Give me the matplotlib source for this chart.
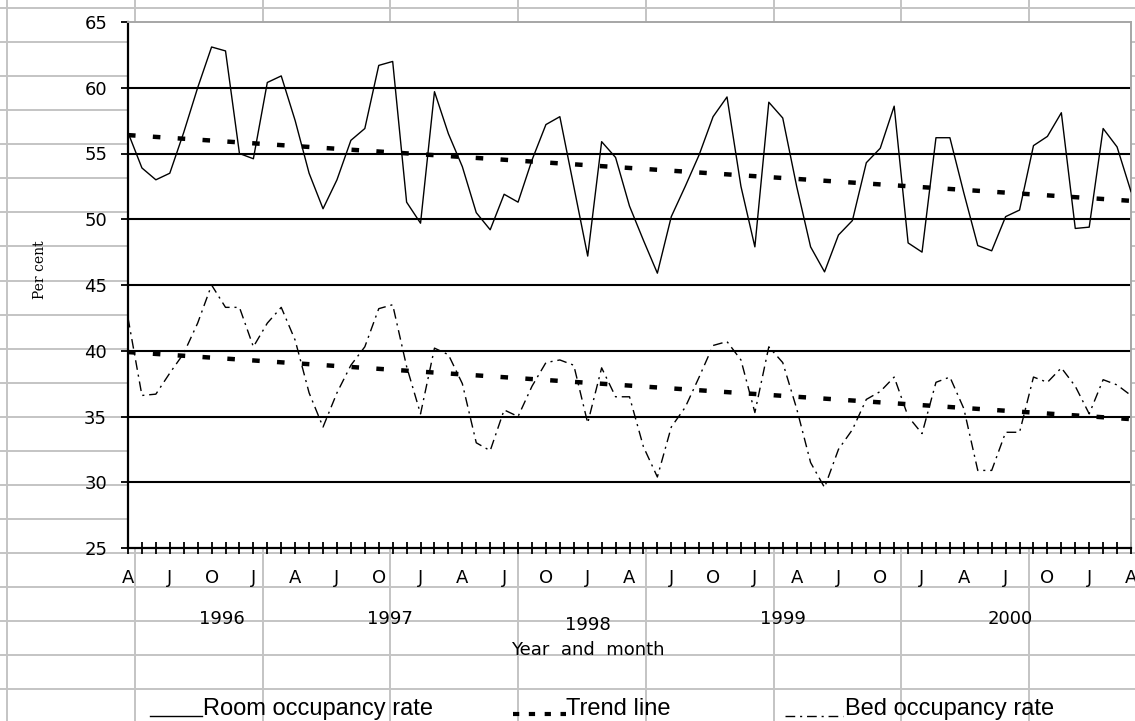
import numpy as np
import matplotlib
matplotlib.use('Agg')
import matplotlib.pyplot as plt
from matplotlib.transforms import blended_transform_factory

# ---------------- data ----------------
quarter_labels = ['A', 'J', 'O', 'J', 'A', 'J', 'O', 'J', 'A', 'J', 'O', 'J',
                  'A', 'J', 'O', 'J', 'A', 'J', 'O', 'J', 'A', 'J', 'O', 'J', 'A']
year_labels = ['1996', '1997', '1998', '1999', '2000']

room_rate = [56.6, 53.9, 53.0, 53.5, 56.6, 60.0, 63.1, 62.8, 55.0, 54.6,
             60.4, 60.9, 57.5, 53.5, 50.8, 53.0, 56.0, 56.9, 61.7, 62.0,
             51.3, 49.7, 59.7, 56.5, 54.0, 50.5, 49.2, 51.9, 51.3, 54.5,
             57.2, 57.8, 52.5, 47.2, 55.9, 54.7, 51.0, 48.4, 45.9, 50.2,
             52.5, 54.9, 57.8, 59.3, 52.5, 47.9, 58.9, 57.7, 52.5, 47.9,
             46.0, 48.8, 49.9, 54.3, 55.4, 58.6, 48.2, 47.5, 56.2, 56.2,
             52.0, 48.0, 47.6, 50.2, 50.7, 55.6, 56.3, 58.1, 49.3, 49.4,
             56.9, 55.5, 52.1]

bed_rate = [42.5, 36.6, 36.7, 38.3, 39.8, 42.1, 45.0, 43.3, 43.3, 40.3,
            42.1, 43.3, 40.8, 36.8, 34.2, 36.8, 38.9, 40.3, 43.2, 43.5,
            38.8, 35.2, 40.2, 39.7, 37.5, 33.0, 32.4, 35.5, 35.0, 37.3,
            39.1, 39.3, 38.9, 34.5, 38.7, 36.5, 36.5, 32.7, 30.4, 34.2,
            35.7, 38.0, 40.4, 40.7, 39.3, 35.3, 40.3, 39.1, 35.6, 31.5,
            29.6, 32.5, 34.0, 36.3, 36.9, 38.0, 35.0, 33.7, 37.6, 38.0,
            35.6, 30.9, 30.9, 33.8, 33.8, 38.0, 37.6, 38.7, 37.3, 35.2,
            37.8, 37.4, 36.6]

room_trend_ends = [56.4, 51.4]
bed_trend_ends = [39.9, 34.8]

# ---------------- layout ----------------
W, H = 1135, 721
fig = plt.figure(figsize=(W / 100, H / 100), dpi=100)
fig.patch.set_facecolor('white')

FONT = 'DejaVu Sans'
FS = 13
LEG_FONT = 'Liberation Sans'
LEG_FS = 17

# spreadsheet background
bg = fig.add_axes([0, 0, 1, 1], zorder=0)
bg.set_xlim(0, W)
bg.set_ylim(H, 0)
bg.axis('off')
sheet_c = '#c4c4c4'
for xv in np.arange(7, W, 127.75):
    bg.axvline(xv, color=sheet_c, lw=1.4)
for yv in np.arange(8, H + 5, 34.07):
    bg.axhline(yv, color=sheet_c, lw=1.4)

# main plot
x0, x1, ytop, ybot = 128, 1131, 22, 548
ax = fig.add_axes([x0 / W, 1 - ybot / H, (x1 - x0) / W, (ybot - ytop) / H], zorder=1)
ax.set_facecolor('white')

n = len(room_rate)
months = np.arange(n)

bed_style = (0, (7, 3.5, 1.5, 3.5))
trend_style = (0, (1.7, 3.9))

ax.plot(months, room_rate, color='black', lw=1.0, zorder=3)
ax.plot(months, bed_rate, color='black', lw=1.0, linestyle=bed_style, zorder=3)
ax.plot([months[0], months[-1]], room_trend_ends, color='black', lw=3.2,
        linestyle=trend_style, dash_capstyle='butt', zorder=4)
ax.plot([months[0], months[-1]], bed_trend_ends, color='black', lw=3.2,
        linestyle=trend_style, dash_capstyle='butt', zorder=4)

ax.set_xlim(0, n - 1)
ax.set_ylim(25, 65)
ax.set_yticks(np.arange(25, 66, 5))
ax.set_xticks(np.arange(0, n, 3))
ax.set_xticklabels(quarter_labels)
ax.set_xticks(months, minor=True)

ax.grid(axis='y', color='black', lw=1.5, zorder=1)
gls = ax.get_ygridlines()
gls[0].set_visible(False)
gls[-1].set_visible(False)
ax.set_axisbelow(True)

for s in ['left', 'bottom']:
    ax.spines[s].set_color('black')
    ax.spines[s].set_linewidth(1.6)
for s in ['top', 'right']:
    ax.spines[s].set_color('#a6a6a6')
    ax.spines[s].set_linewidth(1.4)

ax.tick_params(axis='x', which='both', direction='inout', length=8, width=1.3,
               color='black')
ax.tick_params(axis='x', which='major', pad=11, labelsize=FS)
ax.tick_params(axis='y', direction='out', length=5, width=1.3, pad=10, labelsize=FS)
for lab in ax.get_xticklabels() + ax.get_yticklabels():
    lab.set_fontfamily(FONT)

# year labels (x in data units, y in pixels)
tr = blended_transform_factory(ax.transData, bg.transData)
year_x = [6.75, 18.8, 33.0, 47.0, 63.3]
year_y = [619, 619, 625, 619, 619]
for lab, xv, yv in zip(year_labels, year_x, year_y):
    bg.text(xv, yv, lab, transform=tr, ha='center', va='center',
            fontsize=FS, family=FONT)

bg.text(588, 650, 'Year  and  month', ha='center', va='center', fontsize=FS, family=FONT)
bg.text(40, 270, 'Per cent', rotation=90, ha='center', va='center',
        fontsize=10, family='DejaVu Serif')

# legend row
base = 715
bg.plot([150, 202], [base + 1, base + 1], color='black', lw=1.0)
bg.text(203, base, 'Room occupancy rate', ha='left', va='baseline',
        fontsize=LEG_FS, family=LEG_FONT)
bg.plot([513, 566], [base - 1, base - 1], color='black', lw=3.0,
        linestyle=(0, (1.5, 2.3)), dash_capstyle='butt')
bg.text(566, base, 'Trend line', ha='left', va='baseline',
        fontsize=LEG_FS, family=LEG_FONT)
bg.plot([785, 843], [base + 1, base + 1], color='black', lw=1.0, linestyle=bed_style)
bg.text(845, base, 'Bed occupancy rate', ha='left', va='baseline',
        fontsize=LEG_FS, family=LEG_FONT)

fig.savefig('out.png', dpi=100, facecolor=fig.get_facecolor())
